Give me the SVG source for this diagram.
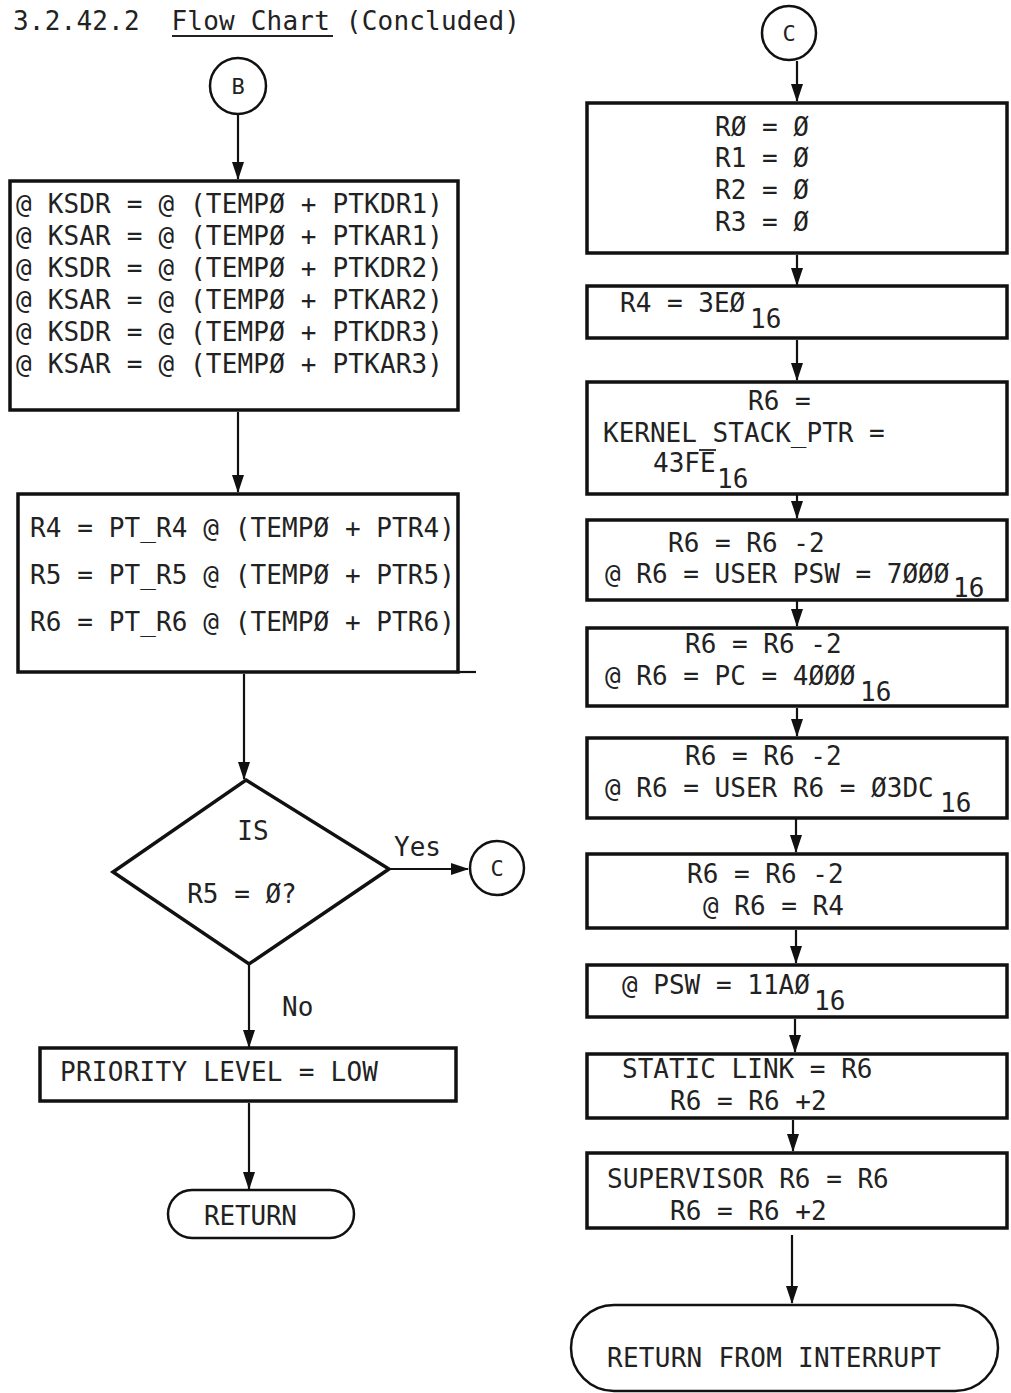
<svg xmlns="http://www.w3.org/2000/svg" width="1011" height="1393" viewBox="0 0 1011 1393">
<defs>
<marker id="ah" markerWidth="18" markerHeight="12" refX="17" refY="6" orient="auto" markerUnits="userSpaceOnUse"><path d="M0,0 L18,6 L0,12 z" fill="#111"/></marker>
<style>
.box{fill:#fff;stroke:#111;stroke-width:3.5}
.thin{fill:#fff;stroke:#111;stroke-width:2.5}
.t{font-family:"DejaVu Sans Mono","Liberation Mono",monospace;font-size:26px;fill:#222}
.s{font-family:"DejaVu Sans Mono","Liberation Mono",monospace;font-size:22px;fill:#222}
.c{fill:none;stroke:#111;stroke-width:2.2}
.u{stroke:#222;stroke-width:1.8}
</style>
</defs>
<rect width="1011" height="1393" fill="#fff"/>

<g id="title">
<text class="t" x="13" y="30" xml:space="preserve" textLength="507">3.2.42.2  Flow Chart (Concluded)</text>
<line class="u" x1="172" y1="36" x2="333" y2="36"/>
</g>

<g id="connectors">
<line class="c" x1="238" y1="115" x2="238" y2="179" marker-end="url(#ah)"/>
<line class="c" x1="238" y1="412" x2="238" y2="492" marker-end="url(#ah)"/>
<line class="c" x1="244" y1="674" x2="244" y2="779" marker-end="url(#ah)"/>
<line class="c" x1="389" y1="869" x2="468" y2="869" marker-end="url(#ah)"/>
<line class="c" x1="249" y1="964" x2="249" y2="1047" marker-end="url(#ah)"/>
<line class="c" x1="249" y1="1103" x2="249" y2="1189" marker-end="url(#ah)"/>
<line class="c" x1="797" y1="61" x2="797" y2="101" marker-end="url(#ah)"/>
<line class="c" x1="797" y1="255" x2="797" y2="285" marker-end="url(#ah)"/>
<line class="c" x1="797" y1="340" x2="797" y2="380" marker-end="url(#ah)"/>
<line class="c" x1="797" y1="481" x2="797" y2="518" marker-end="url(#ah)"/>
<line class="c" x1="797" y1="588" x2="797" y2="626" marker-end="url(#ah)"/>
<line class="c" x1="797" y1="708" x2="797" y2="736" marker-end="url(#ah)"/>
<line class="c" x1="796" y1="808" x2="796" y2="852" marker-end="url(#ah)"/>
<line class="c" x1="796" y1="930" x2="796" y2="963" marker-end="url(#ah)"/>
<line class="c" x1="795" y1="1019" x2="795" y2="1052" marker-end="url(#ah)"/>
<line class="c" x1="793" y1="1120" x2="793" y2="1151" marker-end="url(#ah)"/>
<line class="c" x1="792" y1="1235" x2="792" y2="1303" marker-end="url(#ah)"/>
</g>

<g id="labels">
<text class="t" x="394" y="856">Yes</text>
<text class="t" x="282" y="1016">No</text>
</g>

<g id="nodeB">
<circle class="thin" cx="238" cy="86" r="28"/>
<text class="s" x="238" y="94" text-anchor="middle">B</text>
</g>

<g id="box1">
<rect class="box" x="10" y="181" width="448" height="229"/>
<text class="t" x="16" y="213" textLength="427">@ KSDR = @ (TEMPØ + PTKDR1)</text>
<text class="t" x="16" y="245" textLength="427">@ KSAR = @ (TEMPØ + PTKAR1)</text>
<text class="t" x="16" y="277" textLength="427">@ KSDR = @ (TEMPØ + PTKDR2)</text>
<text class="t" x="16" y="309" textLength="427">@ KSAR = @ (TEMPØ + PTKAR2)</text>
<text class="t" x="16" y="341" textLength="427">@ KSDR = @ (TEMPØ + PTKDR3)</text>
<text class="t" x="16" y="373" textLength="427">@ KSAR = @ (TEMPØ + PTKAR3)</text>
</g>

<g id="box2">
<rect class="box" x="18" y="494" width="440" height="178"/>
<line class="c" x1="456" y1="672" x2="476" y2="672"/>
<text class="t" x="30" y="537" textLength="425">R4 = PT_R4 @ (TEMPØ + PTR4)</text>
<text class="t" x="30" y="584" textLength="425">R5 = PT_R5 @ (TEMPØ + PTR5)</text>
<text class="t" x="30" y="631" textLength="425">R6 = PT_R6 @ (TEMPØ + PTR6)</text>
</g>

<g id="decision">
<polygon class="box" points="246,780 389,869 249,964 113,872"/>
<text class="t" x="253" y="840" text-anchor="middle">IS</text>
<text class="t" x="242" y="903" text-anchor="middle">R5 = Ø?</text>
</g>

<g id="nodeC_left">
<circle class="thin" cx="497" cy="868" r="27"/>
<text class="s" x="497" y="876" text-anchor="middle">C</text>
</g>

<g id="priority">
<rect class="box" x="40" y="1048" width="416" height="53"/>
<text class="t" x="60" y="1081" textLength="318">PRIORITY LEVEL = LOW</text>
</g>

<g id="return">
<rect class="thin" x="168" y="1190" width="186" height="48" rx="24"/>
<text class="t" x="204" y="1225" textLength="93">RETURN</text>
</g>

<g id="nodeC_top">
<circle class="thin" cx="789" cy="33" r="27"/>
<text class="s" x="789" y="41" text-anchor="middle">C</text>
</g>

<g id="r0r3">
<rect class="box" x="587" y="103" width="420" height="150"/>
<text class="t" x="715" y="136">RØ = Ø</text>
<text class="t" x="715" y="167">R1 = Ø</text>
<text class="t" x="715" y="199">R2 = Ø</text>
<text class="t" x="715" y="231">R3 = Ø</text>
</g>

<g id="r4">
<rect class="box" x="587" y="286" width="420" height="52"/>
<text class="t" x="620" y="312">R4 = 3EØ</text>
<text class="t" x="750" y="328">16</text>
</g>

<g id="r6ksp">
<rect class="box" x="587" y="382" width="420" height="112"/>
<text class="t" x="748" y="410">R6 =</text>
<text class="t" x="603" y="442">KERNEL STACK_PTR =</text>
<text class="t" x="653" y="472">43FE</text>
<text class="t" x="717" y="488">16</text>
<line class="u" x1="699" y1="450" x2="716" y2="450"/>
</g>

<g id="userpsw">
<rect class="box" x="587" y="520" width="420" height="80"/>
<text class="t" x="668" y="552">R6 = R6 -2</text>
<text class="t" x="605" y="583">@ R6 = USER PSW = 7ØØØ</text>
<text class="t" x="953" y="597">16</text>
</g>

<g id="pc">
<rect class="box" x="587" y="628" width="420" height="78"/>
<text class="t" x="685" y="653">R6 = R6 -2</text>
<text class="t" x="605" y="685">@ R6 = PC = 4ØØØ</text>
<text class="t" x="860" y="701">16</text>
</g>

<g id="userr6">
<rect class="box" x="587" y="738" width="420" height="80"/>
<text class="t" x="685" y="765">R6 = R6 -2</text>
<text class="t" x="605" y="797">@ R6 = USER R6 = Ø3DC</text>
<text class="t" x="940" y="812">16</text>
</g>

<g id="pushr4">
<rect class="box" x="587" y="854" width="420" height="74"/>
<text class="t" x="687" y="883">R6 = R6 -2</text>
<text class="t" x="703" y="915">@ R6 = R4</text>
</g>

<g id="psw">
<rect class="box" x="587" y="965" width="420" height="52"/>
<text class="t" x="622" y="994">@ PSW = 11AØ</text>
<text class="t" x="814" y="1010">16</text>
</g>

<g id="staticlink">
<rect class="box" x="587" y="1054" width="420" height="64"/>
<text class="t" x="622" y="1078">STATIC LINK = R6</text>
<text class="t" x="670" y="1110">R6 = R6 +2</text>
</g>

<g id="supervisor">
<rect class="box" x="587" y="1153" width="420" height="75"/>
<text class="t" x="607" y="1188">SUPERVISOR R6 = R6</text>
<text class="t" x="670" y="1220">R6 = R6 +2</text>
</g>

<g id="rti">
<rect class="thin" x="571" y="1305" width="427" height="86" rx="43"/>
<text class="t" x="607" y="1367" textLength="334">RETURN FROM INTERRUPT</text>
</g>
</svg>
